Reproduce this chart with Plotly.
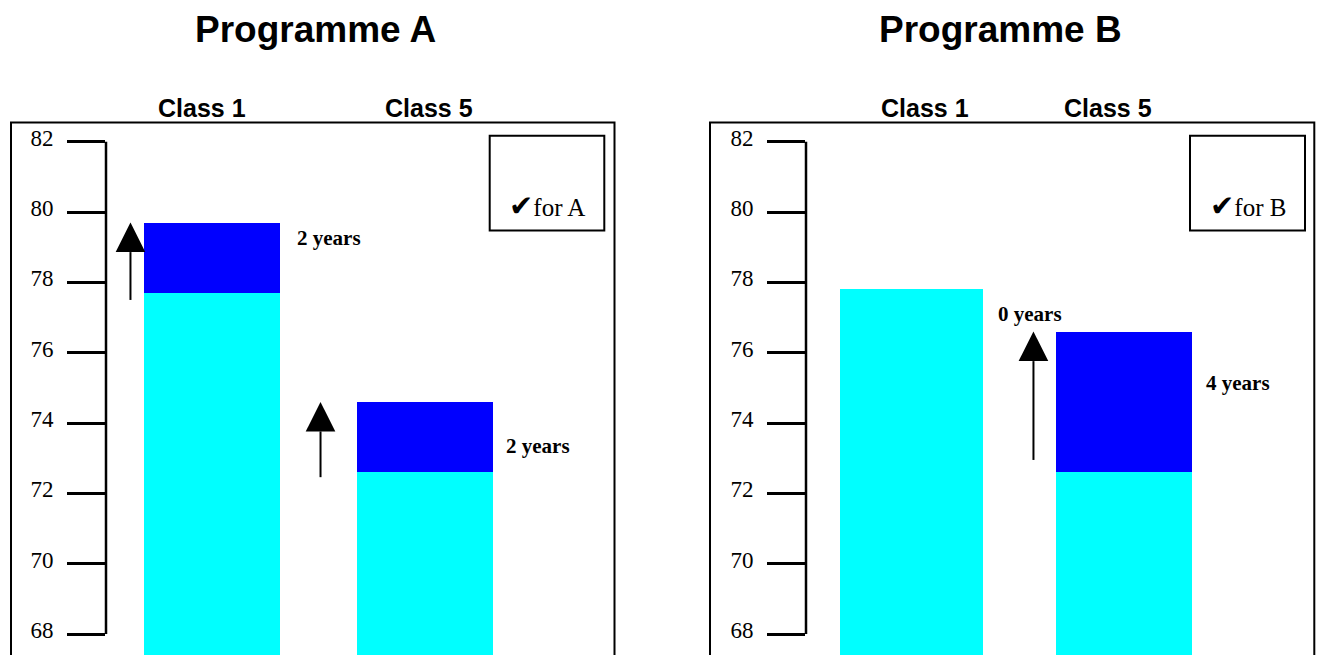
import plotly.graph_objects as go

# ---- data -------------------------------------------------------------
classes = ["Class 1", "Class 5"]
programmes = ["Programme A", "Programme B"]

# life expectancy before the programme (cyan) and years gained (blue)
a_base = [77.7, 72.6]
a_gain = [2, 2]
b_base = [77.8, 72.6]
b_gain = [0, 4]

y_ticks = [68, 70, 72, 74, 76, 78, 80, 82]

# arrows: class index, horizontal offset from the bar centre, tail value
a_arrows = [(0, -0.384, 77.5), (1, -0.491, 72.46)]
b_arrows = [(1, -0.427, 72.95)]

# ---- geometry helpers ------------------------------------------------
W, H = 1318, 655
PPU = (634 - 141.7) / 14.0            # pixels per year on the value axis
Y_TOP = 82 + 141.7 / PPU
Y_BOT = 68 - (H - 634) / PPU


def px(p):
    return p / W


def py(p):
    return 1 - p / H


SERIF = "Liberation Serif, Times New Roman, serif"
SANS = "Liberation Sans, Arial, sans-serif"

panels = [
    dict(name=programmes[0], base=a_base, gain=a_gain, arrows=a_arrows,
         xa="x", ya="y", dom=(106, 614), rng=(-0.499, 1.888), upx=212.8,
         widths=[0.637, 0.637], box=(11, 614.5), title_x=315.5,
         class_x=(202, 429), check=(489.7, 604.3), check_txt="for A",
         year_lbl=[(329, 237.7), (537.5, 445.7)]),
    dict(name=programmes[1], base=b_base, gain=b_gain, arrows=b_arrows,
         xa="x2", ya="y2", dom=(806, 1314), rng=(-0.494, 1.889), upx=213.2,
         widths=[0.673, 0.638], box=(710, 1314.3), title_x=1000,
         class_x=(924.5, 1108), check=(1190, 1305), check_txt="for B",
         year_lbl=[(1030, 314), (1238, 382.7)]),
]

fig = go.Figure()
shapes = []
annotations = []

for p in panels:
    fig.add_trace(go.Bar(
        x=[0, 1], y=p["base"], width=p["widths"], xaxis=p["xa"], yaxis=p["ya"],
        marker=dict(color="#00FFFF", line=dict(width=0)), showlegend=False,
        hoverinfo="skip"))
    fig.add_trace(go.Bar(
        x=[0, 1], y=p["gain"], width=p["widths"], xaxis=p["xa"], yaxis=p["ya"],
        marker=dict(color="#0000FF", line=dict(width=0)), showlegend=False,
        hoverinfo="skip"))

    # frame around the panel (open at the bottom)
    shapes.append(dict(type="rect", xref="paper", yref="paper",
                       x0=px(p["box"][0]), x1=px(p["box"][1]),
                       y0=-0.05, y1=py(122.5),
                       line=dict(color="black", width=2)))

    # value axis line between the first and last tick
    shapes.append(dict(type="line", xref=p["xa"] + " domain", yref=p["ya"],
                       x0=0, x1=0, y0=min(y_ticks), y1=max(y_ticks),
                       line=dict(color="black", width=2.5)))

    # arrows showing the gain
    hw = 14.8 / p["upx"]
    th = 29.5 / PPU
    for idx, dx, tail in p["arrows"]:
        xa = idx + dx
        apex = p["base"][idx] + p["gain"][idx]
        shapes.append(dict(type="line", xref=p["xa"], yref=p["ya"],
                           x0=xa, x1=xa, y0=tail, y1=apex - th,
                           line=dict(color="black", width=2)))
        shapes.append(dict(type="path", xref=p["xa"], yref=p["ya"],
                           path=f"M {xa - hw},{apex - th} L {xa + hw},{apex - th} L {xa},{apex} Z",
                           fillcolor="black", line=dict(width=0)))

    # tick box
    shapes.append(dict(type="rect", xref="paper", yref="paper",
                       x0=px(p["check"][0]), x1=px(p["check"][1]),
                       y0=py(230.5), y1=py(135.7),
                       line=dict(color="black", width=2)))
    check_mark = ('<span style="font-family:DejaVu Sans;font-size:29px">'
                  '\u2714</span>')
    annotations.append(dict(text=check_mark + p["check_txt"],
                            xref="paper", yref="paper",
                            x=px((p["check"][0] + p["check"][1]) / 2), y=py(206),
                            xanchor="center", yanchor="middle", showarrow=False,
                            font=dict(family=SERIF, size=25, color="black")))

    # title and class headings
    annotations.append(dict(text=f"<b>{p['name']}</b>", xref="paper", yref="paper",
                            x=px(p["title_x"]), y=py(30), xanchor="center",
                            yanchor="middle", showarrow=False,
                            font=dict(family=SANS, size=37, color="black")))
    for cx, cname in zip(p["class_x"], classes):
        annotations.append(dict(text=f"<b>{cname}</b>", xref="paper", yref="paper",
                                x=px(cx), y=py(108), xanchor="center",
                                yanchor="middle", showarrow=False,
                                font=dict(family=SANS, size=25, color="black")))

    # years gained labels
    for (lx, ly), g in zip(p["year_lbl"], p["gain"]):
        annotations.append(dict(text=f"<b>{g} years</b>", xref="paper", yref="paper",
                                x=px(lx), y=py(ly), xanchor="center",
                                yanchor="middle", showarrow=False,
                                font=dict(family=SERIF, size=21, color="black")))

yaxis_style = dict(range=[Y_BOT, Y_TOP], domain=[0, 1], tickvals=y_ticks,
                   ticks="outside", ticklen=38, tickwidth=2.5, tickcolor="black",
                   showline=False, showgrid=False, zeroline=False,
                   ticklabelstandoff=9, ticklabelshift=-4,
                   tickfont=dict(family=SERIF, size=23, color="black"))
xaxis_style = dict(visible=False, showgrid=False, zeroline=False)

fig.update_layout(
    width=W, height=H, margin=dict(l=0, r=0, t=0, b=0),
    paper_bgcolor="white", plot_bgcolor="rgba(0,0,0,0)",
    barmode="stack", bargap=0, showlegend=False,
    xaxis=dict(domain=[px(panels[0]["dom"][0]), px(panels[0]["dom"][1])],
               range=list(panels[0]["rng"]), anchor="y", **xaxis_style),
    xaxis2=dict(domain=[px(panels[1]["dom"][0]), px(panels[1]["dom"][1])],
                range=list(panels[1]["rng"]), anchor="y2", **xaxis_style),
    yaxis=dict(anchor="x", **yaxis_style),
    yaxis2=dict(anchor="x2", **yaxis_style),
    shapes=shapes, annotations=annotations,
)

fig.write_html("out.html")
